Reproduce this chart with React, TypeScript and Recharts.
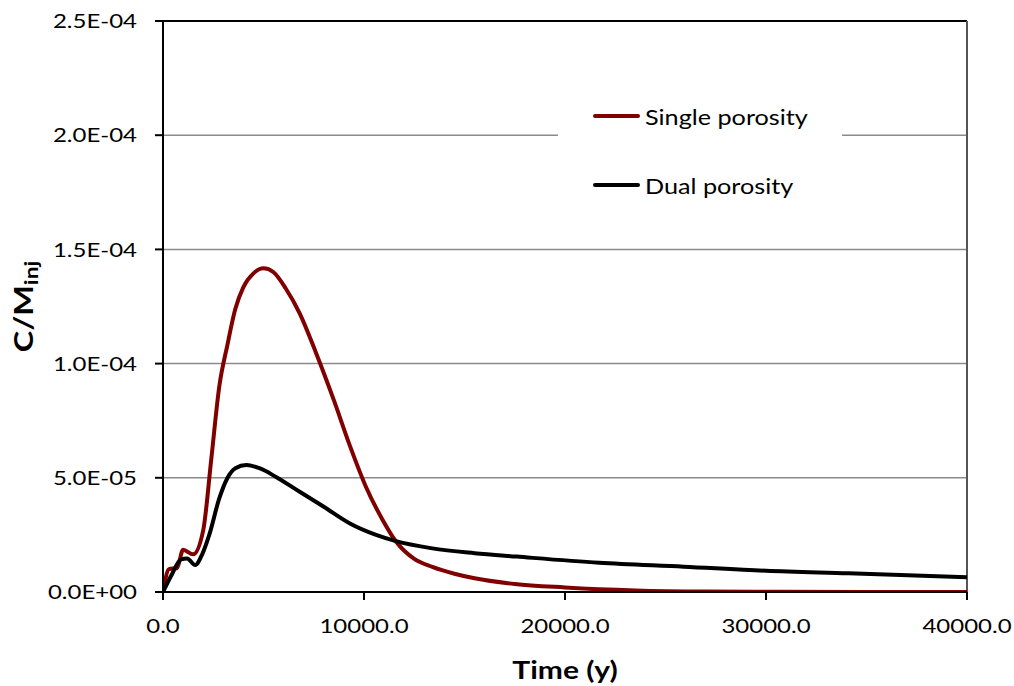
import { CartesianGrid, Label, Line, LineChart, ReferenceLine, XAxis, YAxis } from "recharts";

const singleTime = [0, 300, 700, 1000, 1500, 2000, 2400, 2800, 3200, 3600, 4000, 4500, 5000, 5500, 6100, 6800, 7600, 8500, 9300, 10100, 10900, 11600, 12500, 13400, 14500, 15500, 17500, 20000, 23500, 27000, 30000, 35000, 40000];
const singleValue = [0, 1.0e-5, 1.05e-5, 1.85e-5, 1.65e-5, 2.7e-5, 5.8e-5, 9.0e-5, 1.08e-4, 1.24e-4, 1.335e-4, 1.395e-4, 1.417e-4, 1.4e-4, 1.33e-4, 1.22e-4, 1.05e-4, 8.4e-5, 6.4e-5, 4.6e-5, 3.2e-5, 2.2e-5, 1.45e-5, 1.1e-5, 8e-6, 6e-6, 3.5e-6, 2.0e-6, 7e-7, 2e-7, 1e-7, 0, 0];

const dualTime = [0, 400, 900, 1200, 1600, 1950, 2300, 2800, 3200, 3600, 4150, 4800, 5600, 6800, 8000, 9300, 10600, 11500, 13400, 15500, 17600, 21700, 25900, 30000, 34100, 40000];
const dualValue = [0, 7e-6, 1.43e-5, 1.47e-5, 1.18e-5, 1.65e-5, 2.5e-5, 4.1e-5, 4.98e-5, 5.42e-5, 5.56e-5, 5.42e-5, 5.05e-5, 4.39e-5, 3.73e-5, 3.0e-5, 2.5e-5, 2.25e-5, 1.91e-5, 1.7e-5, 1.55e-5, 1.28e-5, 1.11e-5, 9.3e-6, 8.2e-6, 6.5e-6];

const yTicks = [0, 5e-5, 1e-4, 1.5e-4, 2e-4, 2.5e-4];
const xTicks = [0, 10000, 20000, 30000, 40000];

const seriesNames = ["Single porosity", "Dual porosity"];
const seriesColors = ["#800000", "#000000"];

const singleData = singleTime.map((t, i) => ({ t, v: singleValue[i] }));
const dualData = dualTime.map((t, i) => ({ t, v: dualValue[i] }));

const FONT = "Lato, 'Open Sans', sans-serif";
// reference text is wider than Lato, stretch it a bit
const STRETCH = 1.2;

function sci(v: number) {
  if (v === 0) return "0.0E+00";
  const [m, e] = v.toExponential(1).split("e");
  const n = Number(e);
  const sign = n < 0 ? "-" : "+";
  return `${m}E${sign}${String(Math.abs(n)).padStart(2, "0")}`;
}

function XTick({ x, y, payload }: any) {
  return (
    <g transform={`translate(${x},${y}) scale(${STRETCH},1)`}>
      <text textAnchor="middle" dy="0.72em" fontFamily={FONT} fontSize={20} fill="#000">
        {Number(payload.value).toFixed(1)}
      </text>
    </g>
  );
}

function YTick({ x, y, payload }: any) {
  return (
    <g transform={`translate(${x},${y}) scale(${STRETCH},1)`}>
      <text textAnchor="end" dy="0.36em" fontFamily={FONT} fontSize={20} fill="#000">
        {sci(payload.value)}
      </text>
    </g>
  );
}

function YTitle({ viewBox }: any) {
  const cx = 33;
  const cy = viewBox ? viewBox.y + viewBox.height / 2 + 0 : 307;
  return (
    <g transform={`translate(${cx},${cy}) rotate(-90) scale(${STRETCH},1)`}>
      <text x={0} y={0} textAnchor="middle" fontFamily={FONT} fontWeight="bold" fontSize={27} fill="#000">
        C/M
        <tspan fontSize={19} dy={5}>inj</tspan>
      </text>
    </g>
  );
}

function XTitle({ viewBox }: any) {
  const cx = viewBox ? viewBox.x + viewBox.width / 2 : 565;
  return (
    <g transform={`translate(${cx},679) scale(1.25,1)`}>
      <text x={0} y={0} textAnchor="middle" fontFamily={FONT} fontWeight="bold" fontSize={24} fill="#000">
        Time (y)
      </text>
    </g>
  );
}

function LegendBox() {
  const rows = [116, 185];
  return (
    <div style={{ position: "absolute", left: 558, top: 92, width: 284, height: 116, background: "#fff", fontFamily: FONT, fontSize: 21, color: "#000" }}>
      {seriesNames.map((name, i) => (
        <div
          key={name}
          style={{ position: "absolute", left: 35, top: rows[i] - 92 - 15, height: 30, display: "flex", alignItems: "center", whiteSpace: "nowrap" }}
        >
          <span style={{ display: "inline-block", width: 47, height: 4, borderRadius: 2, background: seriesColors[i], marginRight: 5 }} />
          <span style={{ display: "inline-block", transform: `scaleX(${STRETCH})`, transformOrigin: "left center" }}>{name}</span>
        </div>
      ))}
    </div>
  );
}

export default function App() {
  return (
    <div style={{ position: "absolute", left: 0, top: 0, width: 1014, height: 686, background: "#fff" }}>
      <LineChart width={1014} height={686} margin={{ top: 21, right: 47, bottom: 0, left: 0 }}>
        <CartesianGrid vertical={false} stroke="#8a8a8a" strokeWidth={1.5} />
        <XAxis
          type="number"
          dataKey="t"
          domain={[0, 40000]}
          ticks={xTicks}
          height={94}
          stroke="#000"
          strokeWidth={2}
          tickSize={8}
          tickMargin={19}
          tick={<XTick />}
          allowDataOverflow
        >
          <Label content={<XTitle />} />
        </XAxis>
        <YAxis
          type="number"
          domain={[0, 2.5e-4]}
          ticks={yTicks}
          width={163}
          stroke="#000"
          strokeWidth={2}
          tickSize={8}
          tickMargin={18}
          tick={<YTick />}
          allowDataOverflow
        >
          <Label content={<YTitle />} />
        </YAxis>
        <ReferenceLine y={2.5e-4} stroke="#000" strokeWidth={2} />
        <ReferenceLine x={40000} stroke="#555" strokeWidth={2} />
        <Line
          data={singleData}
          dataKey="v"
          name={seriesNames[0]}
          type="monotone"
          stroke={seriesColors[0]}
          strokeWidth={4}
          dot={false}
          isAnimationActive={false}
        />
        <Line
          data={dualData}
          dataKey="v"
          name={seriesNames[1]}
          type="monotone"
          stroke={seriesColors[1]}
          strokeWidth={4}
          dot={false}
          isAnimationActive={false}
        />
      </LineChart>
      <LegendBox />
    </div>
  );
}
